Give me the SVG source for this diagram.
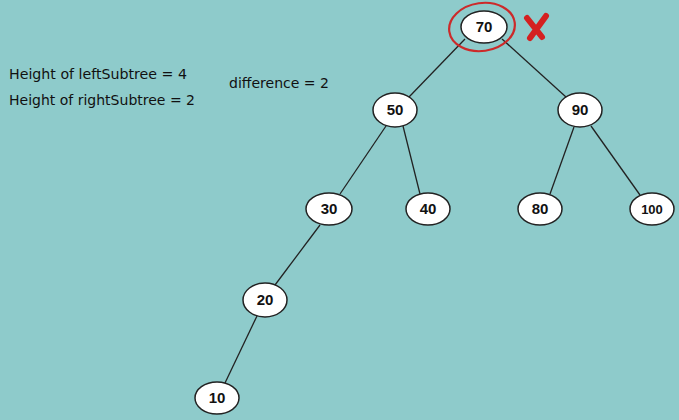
<svg xmlns="http://www.w3.org/2000/svg" width="679" height="420" viewBox="0 0 679 420">
<style>
.n ellipse{fill:#fff;stroke:#222;stroke-width:1.5}
.n text{font-family:"Liberation Sans",Arial,sans-serif;font-weight:bold;font-size:15px;text-anchor:middle;fill:#111}
.lbl{font-family:"DejaVu Sans","Liberation Sans",sans-serif;font-size:13.5px;fill:#111}
#edges line{stroke:#222;stroke-width:1.3}
</style>
<rect width="679" height="420" fill="#8ecbcb"/>
<text class="lbl" x="9" y="79" textLength="178" lengthAdjust="spacingAndGlyphs">Height of leftSubtree = 4</text>
<text class="lbl" x="9" y="105" textLength="186" lengthAdjust="spacingAndGlyphs">Height of rightSubtree = 2</text>
<text class="lbl" x="229" y="88" textLength="100" lengthAdjust="spacingAndGlyphs">difference = 2</text>
<g id="edges">
<line x1="465" y1="39" x2="409" y2="97"/>
<line x1="502" y1="39" x2="566" y2="97"/>
<line x1="386" y1="126" x2="340" y2="194"/>
<line x1="403" y1="126" x2="420" y2="194"/>
<line x1="574" y1="127" x2="550" y2="194"/>
<line x1="591" y1="126" x2="640" y2="195"/>
<line x1="320" y1="225" x2="275" y2="285"/>
<line x1="257" y1="316" x2="225" y2="383"/>
</g>
<g id="n70" class="n"><ellipse cx="484" cy="27" rx="23" ry="16"/><text x="484" y="32">70</text></g>
<g id="mark">
<ellipse cx="482" cy="27" rx="33" ry="24" fill="none" stroke="#cc2a2a" stroke-width="2.2" transform="rotate(-8 482 27)"/>
<path d="M527 18 L542 37 M546 16 L530 38" stroke="#d42020" stroke-width="6" stroke-linecap="round" fill="none"/>
</g>
<g id="n50" class="n"><ellipse cx="395" cy="110" rx="22" ry="17"/><text x="395" y="115">50</text></g>
<g id="n90" class="n"><ellipse cx="580" cy="110" rx="22" ry="17"/><text x="580" y="115">90</text></g>
<g id="n30" class="n"><ellipse cx="329" cy="209" rx="23" ry="16"/><text x="329" y="214">30</text></g>
<g id="n40" class="n"><ellipse cx="428" cy="209" rx="22" ry="16"/><text x="428" y="214">40</text></g>
<g id="n80" class="n"><ellipse cx="540" cy="209" rx="22" ry="16"/><text x="540" y="214">80</text></g>
<g id="n100" class="n"><ellipse cx="652" cy="209" rx="22" ry="16"/><text x="652" y="213.5" style="font-size:13px">100</text></g>
<g id="n20" class="n"><ellipse cx="265" cy="300" rx="22" ry="17"/><text x="265" y="305">20</text></g>
<g id="n10" class="n"><ellipse cx="217" cy="398" rx="22" ry="16"/><text x="217" y="403">10</text></g>
</svg>
